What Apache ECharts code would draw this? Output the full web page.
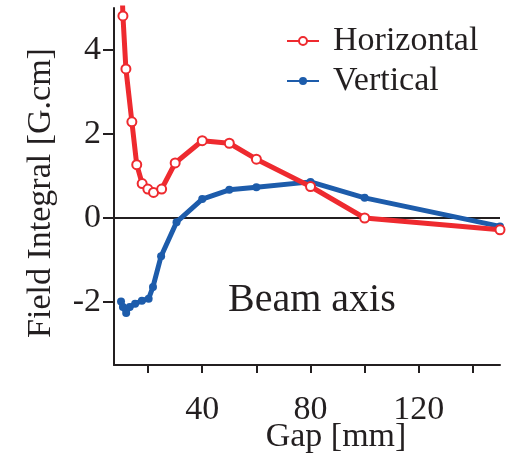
<!DOCTYPE html>
<html>
<head>
<meta charset="utf-8">
<script src="https://cdn.jsdelivr.net/npm/echarts@6/dist/echarts.min.js"></script>
<style>
  html, body { margin: 0; padding: 0; background: #fff; }
  #chart { width: 510px; height: 453px; }
</style>
</head>
<body>
<div id="chart"></div>
<script>
// 数据
const hGap = [10.3, 10.7, 11.8, 14, 15.8, 17.8, 19.9, 22, 25, 30, 40, 50, 60, 80, 100, 150];
const hField = [5.6, 4.81, 3.55, 2.29, 1.27, 0.82, 0.69, 0.61, 0.69, 1.31, 1.84, 1.78, 1.40, 0.75, 0.0, -0.28];
const vGap = [10, 10.7, 11.9, 13.2, 15.2, 17.7, 20.2, 21.8, 24.8, 30.5, 40, 50, 60, 80, 100, 150];
const vField = [-1.99, -2.12, -2.26, -2.12, -2.04, -1.97, -1.92, -1.64, -0.91, -0.10, 0.45, 0.67, 0.73, 0.86, 0.48, -0.20];
const xTicks = [20, 40, 60, 80, 100, 120, 140];
const xLabels = [40, 80, 120];
const yTicks = [-2, 0, 2, 4];

const FONT = '"Liberation Serif", "DejaVu Serif", serif';
const INK = '#231f20';
const RED = '#ee2a2f';
const BLUE = '#1d5cab';

const chart = echarts.init(document.getElementById('chart'));

function zip(xs, ys) {
    return xs.map((x, i) => [x, ys[i]]);
}

chart.setOption({
    animation: false,
    grid: {left: 114, right: 10, top: 8, bottom: 88, outerBoundsMode: 'none', containLabel: false},
    legend: {
        orient: 'vertical',
        left: 286,
        top: 24,
        padding: 0,
        itemWidth: 32,
        itemHeight: 10,
        itemGap: 6,
        textStyle: {fontFamily: FONT, fontSize: 34, color: INK, padding: [0, 0, 0, 9]},
        data: ['Horizontal', 'Vertical']
    },
    xAxis: {
        type: 'value',
        min: 7.4,
        max: 150,
        name: 'Gap [mm]',
        nameLocation: 'middle',
        nameGap: 55,
        nameMoveOverlap: false,
        nameTextStyle: {fontFamily: FONT, fontSize: 34, color: INK, padding: [0, 0, 0, 58]},
        axisLine: {onZero: false, lineStyle: {color: INK, width: 2}},
        axisTick: {customValues: xTicks, length: 8, lineStyle: {color: INK, width: 2}},
        axisLabel: {customValues: xLabels, fontFamily: FONT, fontSize: 34, color: INK, margin: 28},
        splitLine: {show: false}
    },
    yAxis: {
        type: 'value',
        min: -3.5,
        max: 5,
        name: 'Field Integral [G.cm]',
        nameLocation: 'middle',
        nameRotate: 90,
        nameGap: 56,
        nameMoveOverlap: false,
        nameTextStyle: {fontFamily: FONT, fontSize: 34, color: INK, padding: [0, 13, 0, 0]},
        axisLine: {show: true, onZero: false, lineStyle: {color: INK, width: 2}},
        axisTick: {show: true, customValues: yTicks, length: 11, lineStyle: {color: INK, width: 2}},
        axisLabel: {customValues: yTicks, fontFamily: FONT, fontSize: 34, color: INK, margin: 13},
        splitLine: {show: false}
    },
    graphic: [{
        type: 'text',
        left: 228,
        top: 280,
        style: {text: 'Beam axis', font: '40px ' + FONT, fill: INK}
    }],
    series: [
        {
            name: 'Horizontal',
            type: 'line',
            data: zip(hGap, hField),
            symbol: 'emptyCircle',
            symbolSize: 9,
            showAllSymbol: true,
            clip: true,
            lineStyle: {color: RED, width: 5},
            itemStyle: {color: RED, borderColor: RED, borderWidth: 1.5},
            z: 3,
            markLine: {
                silent: true,
                symbol: 'none',
                label: {show: false},
                lineStyle: {color: INK, width: 2, type: 'solid'},
                data: [{yAxis: 0}],
                z: 1
            }
        },
        {
            name: 'Vertical',
            type: 'line',
            data: zip(vGap, vField),
            symbol: 'circle',
            symbolSize: 8,
            showAllSymbol: true,
            lineStyle: {color: BLUE, width: 5},
            itemStyle: {color: BLUE},
            z: 2
        }
    ]
});
</script>
</body>
</html>
